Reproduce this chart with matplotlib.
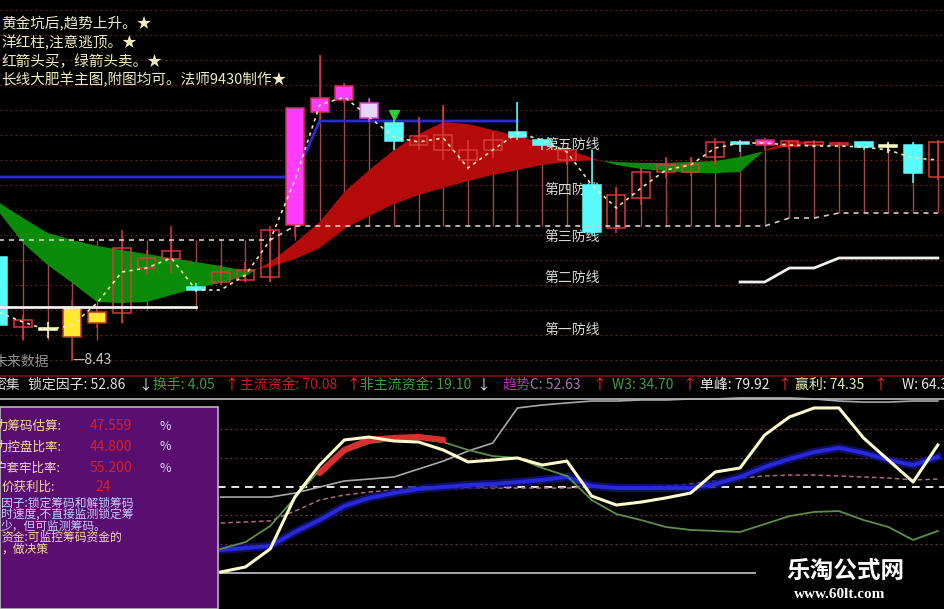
import numpy as np
import matplotlib
matplotlib.use('Agg')
import matplotlib.pyplot as plt
from matplotlib.patches import Rectangle
from matplotlib.lines import Line2D

plt.rcParams['font.family'] = ['Noto Sans CJK SC', 'DejaVu Sans']

# ---------------- main chart data (price) ----------------
open_ = [8.842, 8.562, 8.55, 8.522, 8.578, 8.618, 8.798, 8.834, 8.722, 8.742, 8.75, 8.762, 8.97,
         9.422, 9.47, 9.458, 9.378, 9.29, 9.27, 9.23, 9.27, 9.342, 9.31, 9.23, 9.13, 8.958,
         9.078, 9.182, 9.182, 9.242, 9.302, 9.29, 9.286, 9.29, 9.29, 9.302, 9.286, 9.29, 9.162]
close = [8.57, 8.59, 8.55, 8.642, 8.622, 8.878, 8.838, 8.866, 8.71, 8.782, 8.79, 8.95, 9.438,
         9.478, 9.526, 9.398, 9.306, 9.326, 9.33, 9.27, 9.31, 9.322, 9.29, 9.27, 8.942, 9.09,
         9.182, 9.21, 9.21, 9.302, 9.294, 9.31, 9.306, 9.302, 9.298, 9.282, 9.282, 9.178, 9.302]
high = [8.87, 8.61, 8.582, 8.67, 8.638, 8.95, 8.87, 8.966, 8.738, 8.81, 8.822, 8.966, 9.438,
        9.65, 9.538, 9.478, 9.39, 9.402, 9.45, 9.31, 9.342, 9.462, 9.318, 9.282, 9.27, 9.122,
        9.198, 9.242, 9.242, 9.318, 9.31, 9.318, 9.31, 9.31, 9.302, 9.306, 9.302, 9.302, 9.31]
low = [8.55, 8.51, 8.518, 8.43, 8.558, 8.578, 8.77, 8.778, 8.702, 8.73, 8.742, 8.742, 8.922,
       9.39, 9.458, 9.382, 9.27, 9.27, 9.23, 9.19, 9.238, 9.31, 9.27, 9.21, 8.93, 8.938,
       9.05, 9.158, 9.166, 9.21, 9.262, 9.27, 9.27, 9.278, 9.278, 9.27, 9.258, 9.138, 9.15]
candle_style = ['down', 'up', 'doji', 'gold', 'gold', 'up', 'up', 'up', 'down', 'up', 'up', 'up',
                'magenta', 'magenta', 'magenta', 'lavender', 'down', 'up', 'up', 'up', 'up',
                'down', 'down', 'up', 'down', 'up', 'up', 'up', 'up', 'up', 'down', 'magenta',
                'up', 'up', 'up', 'down', 'doji', 'down', 'up']
ma_line = [8.622, 8.582, 8.55, 8.57, 8.658, 8.782, 8.798, 8.838, 8.71, 8.71, 8.77, 8.91, 9.15,
           9.45, 9.482, 9.402, 9.322, 9.302, 9.318, 9.198, 9.27, 9.338, 9.31, 9.262, 9.13,
           9.038, 9.118, 9.19, 9.21, 9.278, 9.298, 9.298, 9.29, 9.286, 9.286, 9.282, 9.27,
           9.238, 9.23]
stick_end = [8.51, 8.51, 8.51, 8.43, 8.51, 8.578, 8.63, 8.778, 8.63, 8.742, 8.742, 8.742, 8.91,
             9.65, 9.538, 9.478, 9.402, 9.402, 9.45, 9.31, 9.342, 9.462, 9.318, 9.282, 9.27,
             9.122, 9.198, 9.242, 9.242, 9.302, 9.302, 9.302, 9.302, 9.302, 9.302, 9.302,
             9.302, 9.302, 9.302]
third_line = [8.91] * 12 + [8.966] * 20 + [8.998, 8.998] + [9.018] * 5
cloud_slow = [9.062, 8.998, 8.938, 8.91, 8.886, 8.87, 8.854, 8.838, 8.822, 8.806, 8.786, 8.802,
              8.834, 8.878, 8.954, 9.006, 9.054, 9.09, 9.118, 9.146, 9.17, 9.19, 9.21, 9.222,
              9.23, 9.222, 9.218, 9.218, 9.222, 9.226, 9.242, 9.266, 9.286, 9.298]
cloud_fast = [9.026, 8.898, 8.81, 8.738, 8.662, 8.658, 8.662, 8.69, 8.718, 8.738, 8.766, 8.822,
              8.898, 8.982, 9.102, 9.19, 9.27, 9.334, 9.382, 9.374, 9.35, 9.326, 9.298, 9.274,
              9.238, 9.21, 9.194, 9.186, 9.178, 9.178, 9.182, 9.27, 9.306, 9.302]
blue_line = [9.162, 9.162, 9.162, 9.162, 9.162, 9.162, 9.162, 9.162, 9.162, 9.162, 9.162, 9.162,
             9.162, 9.386, 9.386, 9.386, 9.386, 9.386, 9.386, 9.386, 9.386, 9.386]
white_left = [8.642] * 9
white_right_idx = [30, 31, 32, 33, 34, 35, 36, 37, 38]
white_right = [8.742, 8.742, 8.798, 8.798, 8.838, 8.838, 8.838, 8.838, 8.838]
sell_idx = [16]
sell_price = [9.41]
grid_levels = [8.43, 8.53, 8.63, 8.73, 8.83, 8.93, 9.03, 9.13, 9.23, 9.33, 9.43, 9.53, 9.63,
               9.73, 9.83]
defense_labels = ['第五防线', '第四防线', '第三防线', '第二防线', '第一防线']
defense_levels = [9.29, 9.11, 8.922, 8.758, 8.55]
low_mark = 8.43

# ---------------- indicator data (index 9..38) ----------------
ind_start = 9
ind_yellow = [0.6, 3.5, 13.9, 44.0, 62.4, 76.9, 78.6, 76.3, 75.7, 71.1, 64.2, 65.3, 66.5, 62.4,
              64.7, 44.5, 39.3, 41.0, 43.4, 46.2, 58.4, 60.7, 79.8, 90.2, 95.4, 95.4, 78.0,
              65.3, 52.6, 74.0]
ind_green = [13.9, 17.9, 27.2, 43.4, 59.5, 69.9, 75.1, 76.9, 78.0, 75.7, 71.1, 67.6, 66.5, 60.7,
             56.1, 42.2, 34.1, 30.6, 26.6, 24.9, 24.3, 23.7, 28.3, 32.9, 35.3, 35.8, 30.6, 26.6,
             19.1, 24.3]
ind_gray = [43.9, 43.9, 43.9, 46.2, 49.7, 53.2, 54.3, 55.5, 60.1, 64.7, 70.5, 75.1, 95.4, 97.1,
            98.3, 99.4, 99.4, 100.0, 100.0, 100.6, 100.6, 101.2, 101.2, 101.2, 100.6, 99.4,
            98.8, 98.8, 99.4, 99.4]
ind_blue = [13.3, 14.5, 15.6, 23.7, 30.6, 38.7, 43.4, 46.2, 48.6, 49.7, 50.9, 51.4, 52.6, 53.8,
            55.5, 50.3, 49.1, 49.1, 49.1, 49.1, 51.4, 55.5, 61.3, 65.9, 69.9, 72.3, 69.4, 65.3,
            62.4, 67.1]
ind_pink = [28.9, 29.5, 30.1, 35.8, 42.2, 45.1, 46.8, 48.0, 48.6, 49.1, 49.1, 49.1, 49.1, 49.1,
            49.1, 49.7, 49.7, 49.7, 50.3, 51.4, 53.2, 54.9, 56.1, 56.6, 56.6, 56.1, 55.5, 54.9,
            53.8, 54.3]
red_start = 13
ind_red = [57.8, 71.1, 76.9, 78.0, 78.6, 76.9]
ind_grid = [16.7, 33.3, 66.7, 83.3]
ind_mid = 50

# ---------------- texts ----------------
tips = ['黄金坑后,趋势上升。★', '洋红柱,注意逃顶。★', '红箭头买，绿箭头卖。★',
        '长线大肥羊主图,附图均可。法师9430制作★']
status_text = ['密集', '锁定因子: 52.86', '↓', '换手: 4.05', '↑', '主流资金: 70.08', '↑',
               '非主流资金: 19.10', '↓', '趋势', 'C: 52.63', '↑', 'W3: 34.70', '↑',
               '单峰: 79.92', '↑', '赢利: 74.35', '↑', 'W: 64.31']
status_color = ['#d8d8d8', '#e0e0e0', '#e8e8ff', '#40a040', '#ff3030', '#c82020', '#ff3030',
                '#40a040', '#e8e8ff', '#c030c0', '#b070b8', '#ff3030', '#40a040', '#ff3030',
                '#e8e8e8', '#ff3030', '#ececb0', '#ff3030', '#e8e8e8']
box_labels = ['力筹码估算:', '力控盘比率:', '户套牢比率:', '价获利比:']
box_values = ['47.559', '44.800', '55.200', '24']
box_units = ['%', '%', '%', '']
box_notes = ['因子:锁定筹码和解锁筹码', '时速度,不直接监测锁定筹', '少，但可监测筹码。',
             '资金:可监控筹码资金的', '，做决策']

# ---------------- drawing ----------------
W, H = 945, 609
fig = plt.figure(figsize=(W / 100, H / 100), dpi=100, facecolor='black')


def fy(py):
    return 1 - py / H


XL = (0.073, 38.29)
ax = fig.add_axes([0, fy(376), 1, 376 / H])
ax.set_xlim(*XL)
ax.set_ylim(8.366, 9.87)
ax.axis('off')
idx = np.arange(len(open_))

for lv in grid_levels:
    ax.axhline(lv, color='#6e1e1e', lw=0.9, ls=(0, (1.5, 2.5)), zorder=0.5)

ax.vlines(idx, third_line, stick_end, color='#a04848', lw=1.0, zorder=1)

ci = np.arange(len(cloud_slow))
A = np.array(cloud_slow)
B = np.array(cloud_fast)
ax.fill_between(ci, A, B, where=A >= B, interpolate=True, color='#0a8c0a', lw=0, zorder=3)
ax.fill_between(ci, A, B, where=B >= A, interpolate=True, color='#b40a0a', lw=0, zorder=3)

ax.plot(np.arange(len(blue_line)), blue_line, color='#2a2ad4', lw=2, zorder=2.5)

styles = {
    'up': ('none', '#d83a3a'),
    'down': ('#58fcfc', '#58fcfc'),
    'doji': ('#ffffc8', '#ffffc8'),
    'gold': ('#ffe830', '#c83030'),
    'magenta': ('#ff3cff', '#d03050'),
    'lavender': ('#e8d4ff', '#e040e0'),
}
bw = 0.72
for i in idx:
    fc, ec = styles[candle_style[i]]
    ax.vlines(i, low[i], high[i], color=ec, lw=1.1, zorder=4)
    b0 = min(open_[i], close[i])
    h = max(abs(close[i] - open_[i]), 0.006)
    ax.add_patch(Rectangle((i - bw / 2, b0), bw, h, facecolor=fc, edgecolor=ec, lw=1.1, zorder=5))

ax.plot(sell_idx, sell_price, marker='v', color='#30d030', ms=7, ls='none', zorder=7)

for lab, lv in zip(defense_labels, defense_levels):
    ax.text(22.1, lv, lab, color='#d8d8d8', fontsize=10, va='center', ha='left', zorder=4.5)

ax.plot(idx, third_line, color='#dcc8c8', lw=1.2, ls=(0, (3, 3)), zorder=6)
ax.plot(idx, ma_line, color='#e8e8a8', lw=1.2, ls=(0, (2, 2.5)), zorder=6)
ax.plot(np.arange(len(white_left)), white_left, color='#f0f0f0', lw=2, zorder=6)
ax.plot(white_right_idx, white_right, color='#f0f0f0', lw=2, zorder=6)

ax.text(3, low_mark, '—%.2f' % low_mark, color='#c8c8c8', fontsize=10, va='center',
        ha='left', zorder=7)

# ---------- indicator panel ----------
ax2 = fig.add_axes([0, 0, 1, 209 / H])
ax2.set_xlim(*XL)
ax2.set_ylim(-20.8, 100)
ax2.axis('off')
for v in ind_grid:
    ax2.axhline(v, color='#7a3048', lw=0.9, ls=(0, (1.5, 2.5)))
ax2.axhline(ind_mid, color='#e8e8e8', lw=1.4, ls=(0, (4, 3)))
ax2.axhline(0, xmin=220 / W, xmax=755 / W, color='#b8b8b8', lw=1.3)
li = np.arange(ind_start, ind_start + len(ind_yellow))
ri = np.arange(red_start, red_start + len(ind_red))
ax2.plot(li, ind_gray, color='#a8a8a8', lw=1.2, clip_on=False)
ax2.plot(li, ind_pink, color='#b06878', lw=1.1, ls=(0, (3, 2)))
ax2.plot(li, ind_blue, color='#14147a', lw=6, alpha=0.8)
ax2.plot(li, ind_blue, color='#2828dc', lw=2.8)
ax2.plot(li, ind_green, color='#5a9048', lw=1.3)
ax2.plot(ri, ind_red, color='#d83030', lw=4.5, solid_capstyle='round')
ax2.plot(li, ind_yellow, color='#fffccc', lw=2.2)

# ---------- figure-level decorations ----------
fig.add_artist(Line2D([0, 1], [fy(376), fy(376)], color='#7a1010', lw=1.2))
fig.add_artist(Line2D([0, 1], [fy(399), fy(399)], color='#b0b0b0', lw=1.3))
fig.add_artist(Rectangle((0, 0), 218 / W, fy(407), transform=fig.transFigure,
                         facecolor='#5a0f70', edgecolor='#b8b8b8', lw=1.2, zorder=5))

for k, t in enumerate(tips):
    fig.text(1 / W, fy(24 + 18.7 * k), t, color='#f0ecc0', fontsize=10.5, va='center',
             ha='left', zorder=6)

fig.text(-6 / W, fy(362), '未来数据', color='#909090', fontsize=10, va='center', zorder=6)

status_x = [-8, 28, 138, 153, 224, 240, 346, 360, 476, 503, 530, 592, 612, 682, 700, 777,
            795, 873, 902]
for t, c, x in zip(status_text, status_color, status_x):
    fig.text(x / W, fy(385), t, color=c, fontsize=10, va='center', ha='left', zorder=6)

box_y = [426, 447, 468, 487]
for k in range(4):
    fig.text((-5 if k < 3 else 2) / W, fy(box_y[k]), box_labels[k], color='#f0dca0',
             fontsize=9, va='center', zorder=6)
    fig.text((90 if k < 3 else 95) / W, fy(box_y[k]), box_values[k], color='#d82020',
             fontsize=10, va='center', zorder=6)
    fig.text(160 / W, fy(box_y[k]), box_units[k], color='#d8d8ff', fontsize=9, va='center',
             zorder=6)
notes_y = [503, 514.5, 526, 537.5, 549]
notes_c = ['#c8ccff', '#c8ccff', '#c8ccff', '#f0dc98', '#f0dc98']
for t, y, c in zip(box_notes, notes_y, notes_c):
    fig.text(1 / W, fy(y), t, color=c, fontsize=8.5, va='center', zorder=6)

fig.text(845 / W, fy(571), '乐淘公式网', color='white', fontsize=17, fontweight='bold',
         ha='center', va='center', zorder=6)
fig.text(840 / W, fy(595), 'www.60lt.com', color='white', fontsize=11, fontweight='bold',
         family='Liberation Serif', ha='center', va='center', zorder=6)

fig.savefig('out.png', dpi=100, facecolor='black')
